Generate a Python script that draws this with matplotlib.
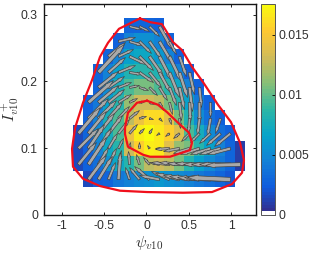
import numpy as np
import matplotlib
matplotlib.use('Agg')
import matplotlib.pyplot as plt
from matplotlib.colors import LinearSegmentedColormap, ListedColormap

plt.rcParams['font.family'] = ['Liberation Sans', 'DejaVu Sans']
plt.rcParams['mathtext.fontset'] = 'cm'

# first occupied column of each row, top row first
row_start = [5, 4, 3, 2, 2, 1, 1, 0, 0, 0, 1]

vals = [
    [.003, .003, .003, .0025],
    [.0025, .0045, .0055, .0055, .0045, .003],
    [.003, .0045, .0065, .007, .007, .006, .0045, .0025],
    [.003, .0045, .0065, .008, .0085, .0085, .008, .0065, .0045, .0025],
    [.003, .005, .0075, .0095, .0105, .0105, .0095, .0085, .007, .0045, .0025],
    [.0025, .004, .0065, .0085, .0115, .013, .013, .0125, .0105, .0085, .0065, .004, .0025],
    [.0025, .0045, .0075, .0095, .0125, .0145, .016, .016, .014, .0105, .008, .005, .0035, .0025],
    [.0015, .003, .005, .0075, .0095, .0145, .0168, .0174, .0165, .0155, .0135, .0095, .0075, .005, .0035, .0025],
    [.0015, .0025, .0045, .007, .0085, .013, .0155, .017, .0165, .014, .0115, .0105, .0085, .0065, .0045, .003, .001],
    [.0015, .0025, .0035, .0055, .007, .0085, .0105, .0125, .013, .0125, .0105, .0085, .0065, .005, .004, .003, .001],
    [.0015, .0025, .003, .004, .0045, .005, .0055, .006, .0055, .005, .0045, .004, .0035, .003, .002],
]

# arrow components per cell, in screen pixels
du = [
    [12, 10, 10, 13],
    [17, 13, 12, 12, 13, 7],
    [17, 15, 17, 14, 14, 13, 12, 7],
    [26, 17, 17, 13, 14, 12, 11, 10, 8, 5],
    [20, 16, 13, 10, 9, 8, 8, 7, 5, 3, 2],
    [25, 20, 16, 13, 8, 6, 5, 4, 3, 2, 1, 0, 0],
    [20, 18, 14, 11, 10, 7, 4, 3, 2, 1, -1, -2, -3, -5],
    [22, 18, 16, 14, 11, 8, 5, 3, -3, -4, -6, -8, -9, -11, -14, -16],
    [20, 16, 13, 9, 5, 1, 0, -2, -4, -14, -16, -16, -19, -20, -21, -23, 0],
    [18, 18, 10, 8, 3, -1, -3, -6, -10, -18, -20, -22, -24, -27, -29, -31, -35],
    [18, 14, 7, 2, -4, -10, -15, -20, -18, -24, -26, -30, -33, -36, -43],
]
dv = [
    [-3, -5, -10, -23],
    [4, -4, -12, -17, -22, -13],
    [14, 7, -8, -14, -20, -25, -25, -20],
    [28, 15, 7, -2, -10, -15, -20, -25, -25, -22],
    [16, 11, 5, 2, -3, -8, -13, -18, -22, -24, -20],
    [22, 17, 13, 8, 4, 1, -2, -8, -12, -18, -20, -22, -15],
    [20, 18, 16, 12, 8, 2, -1, -3, -6, -10, -15, -17, -18, -15],
    [26, 22, 20, 18, 14, 9, 5, 5, -2, -3, -5, -8, -9, -10, -12, -13],
    [20, 24, 20, 15, 10, 6, 6, 3, 0, -1, -3, -5, -6, -6, -6, -6, 0],
    [22, 27, 17, 16, 14, 13, 10, 7, 2, 2, 2, 1, 1, 0, 0, 0, -1],
    [24, 23, 17, 27, 12, 12, 13, 4, 8, 6, 4, 3, 2, 2, 2],
]

outer_x = [-0.076, -0.324, -0.453, -0.547, -0.641, -0.747, -0.841, -0.876, -0.865, -0.747,
           -0.547, -0.312, 0.006, 0.429, 0.771, 1.006, 1.124, 1.147, 1.1, 0.994,
           0.841, 0.665, 0.535, 0.418, 0.312, 0.182, 0.041, -0.076]
outer_y = [0.2946, 0.279, 0.258, 0.237, 0.202, 0.168, 0.130, 0.099, 0.072, 0.054,
           0.043, 0.036, 0.034, 0.033, 0.034, 0.046, 0.063, 0.082, 0.108, 0.139,
           0.165, 0.199, 0.222, 0.247, 0.259, 0.286, 0.289, 0.2946]
inner_x = [0.006, -0.112, -0.218, -0.253, -0.253, -0.218, -0.041, 0.041, 0.276, 0.512,
           0.535, 0.5, 0.371, 0.241, 0.135, 0.006]
inner_y = [0.171, 0.168, 0.153, 0.130, 0.121, 0.102, 0.090, 0.087, 0.087, 0.097,
           0.108, 0.123, 0.138, 0.154, 0.165, 0.171]

x_edge0, dx = -0.865, 0.119
y_top, dy = 0.295, 0.023
n_cols, n_rows = 17, 11

parula = LinearSegmentedColormap.from_list('parula', [
    '#352a87', '#0f5cdd', '#1481d6', '#06a4ca', '#2eb7a4',
    '#87bf77', '#d1bb59', '#fec832', '#f9fb0e'])
cols = parula(np.linspace(0, 1, 64))
cols[0] = (1, 1, 1, 1)
cmap = ListedColormap(cols)

grid = np.full((n_rows, n_cols), np.nan)
for r, (s, row) in enumerate(zip(row_start, vals)):
    grid[r, s:s + len(row)] = row

x_edges = x_edge0 + dx * np.arange(n_cols + 1)
y_edges = y_top - dy * np.arange(n_rows + 1)

W, H = 311, 254
fig = plt.figure(figsize=(W / 100, H / 100), dpi=100)
ax = fig.add_axes([43.5 / W, 1 - 214.7 / H, 212.2 / W, 211.2 / H])
cax = fig.add_axes([261 / W, 1 - 214.7 / H, 14 / W, 211.2 / H])

mesh = ax.pcolormesh(x_edges, y_edges, np.ma.masked_invalid(grid),
                     cmap=cmap, vmin=0, vmax=0.0176, linewidth=0)

# shaft thickness grows with arrow length, so one quiver per arrow
for r, s in enumerate(row_start):
    yc = y_top - dy * (r + 0.5)
    for i, (u, v) in enumerate(zip(du[r], dv[r])):
        if u == 0 and v == 0:
            continue
        xc = x_edge0 + dx * (s + i + 0.5)
        length = np.hypot(u, v)
        ax.quiver([xc], [yc], [u], [v], angles='uv', scale_units='dots', scale=1,
                  units='dots', width=1.2 + 0.07 * length, headwidth=1.45,
                  headlength=2.6, headaxislength=2.6, minlength=0, pivot='tail',
                  color='#a9a9a9', edgecolor='#404040', linewidth=0.45, zorder=3)

ax.plot(outer_x, outer_y, color='#f0101c', linewidth=1.6, zorder=4)
ax.plot(inner_x, inner_y, color='#f0101c', linewidth=1.6, zorder=4)

ax.set_xlim(-1.212, 1.285)
ax.set_ylim(0, 0.317)
ax.set_xticks([-1, -0.5, 0, 0.5, 1])
ax.set_xticklabels(['-1', '-0.5', '0', '0.5', '1'])
ax.set_yticks([0, 0.1, 0.2, 0.3])
ax.set_yticklabels(['0', '0.1', '0.2', '0.3'])
ax.tick_params(direction='in', top=True, right=True, length=2.2, width=0.6,
               labelsize=8.8, labelcolor='#303030', pad=4)
for sp in ax.spines.values():
    sp.set_linewidth(1.0)
    sp.set_color('#151515')
ax.set_xlabel(r'$\psi_{v10}$', fontsize=11.5, labelpad=1.5, color='#303030')
ax.set_ylabel(r'$I^+_{v10}$', fontsize=11.5, labelpad=0, color='#303030')

cb = fig.colorbar(mesh, cax=cax)
cb.set_ticks([0, 0.005, 0.01, 0.015])
cb.set_ticklabels(['0', '0.005', '0.01', '0.015'])
cb.ax.tick_params(direction='in', length=2.2, width=0.6, labelsize=8.8,
                  labelcolor='#303030', pad=2.5)
cb.outline.set_linewidth(0.7)
cb.outline.set_edgecolor('#555555')

fig.savefig('out.png', dpi=100)
